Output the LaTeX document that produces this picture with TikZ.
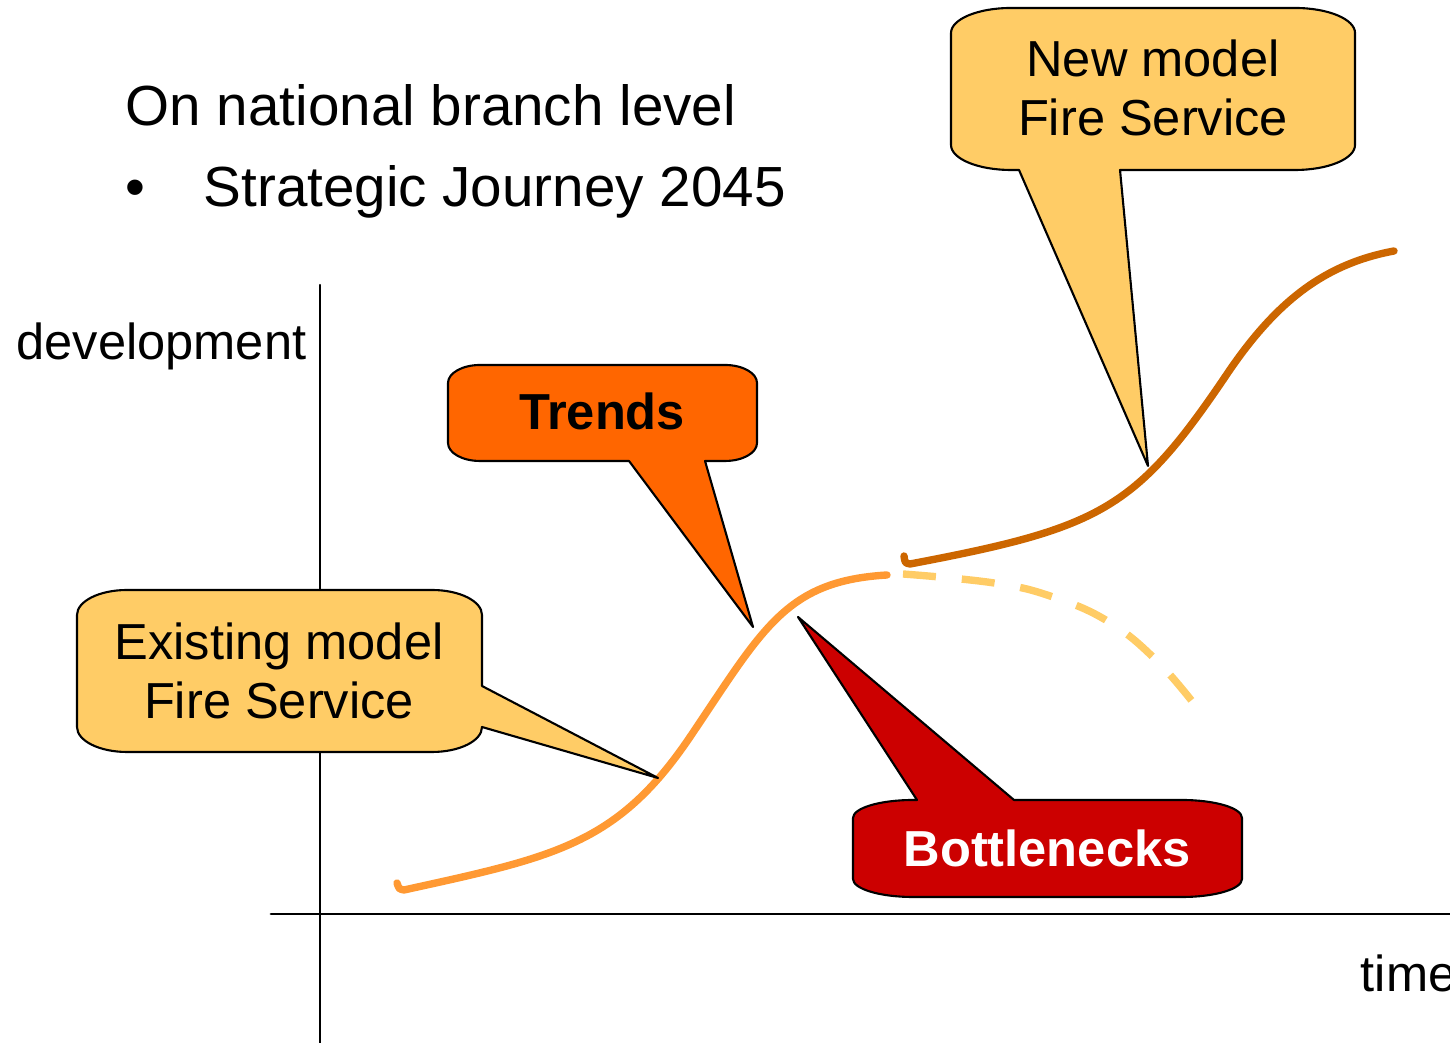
\documentclass[tikz,border=0pt]{standalone}
\usepackage{fontspec}
\setmainfont{Liberation Sans}
\usetikzlibrary{calc}
\definecolor{paleorange}{HTML}{FFCC66}
\definecolor{trendorange}{HTML}{FF6600}
\definecolor{bottlered}{HTML}{CC0000}
\definecolor{oldcurve}{HTML}{FF9933}
\definecolor{newcurve}{HTML}{CC6600}
\tikzstyle{every node}=[font=\fontsize{14.4}{17}\selectfont,inner sep=0pt]
\tikzstyle{every path}=[line cap=round,line join=round]
\tikzstyle{balloon}=[draw=black,line width=0.6pt]
\tikzstyle{bubbletext}=[align=center]
\tikzstyle{headtext}=[anchor=base west,font=\fontsize{16.1}{19}\selectfont]
\tikzstyle{curve}=[line width=2.1pt]

\begin{document}
\begin{tikzpicture}
    \useasboundingbox (0,0) rectangle (14.5,10.43);

    % Define named coordinates
    \coordinate (ytop) at (3.20,7.58);
    \coordinate (ybot) at (3.20,0);
    \coordinate (xleft) at (2.71,1.29);
    \coordinate (xright) at (14.5,1.29);
    \coordinate (existingtip) at (6.58,2.65);
    \coordinate (trendtip) at (7.53,4.16);
    \coordinate (bottletip) at (7.98,4.26);
    \coordinate (newtip) at (11.48,5.77);

    % Axes
    \draw[line width=0.6pt] (ytop) -- (ybot);
    \draw[line width=0.8pt] (xleft) -- (xright);
    \node[anchor=base east] (devlabel) at (3.07,6.83) {development};
    \node[anchor=base west] (timelabel) at (13.60,0.51) {time};

    % Heading
    \node[headtext] (heading) at (1.25,9.17) {On national branch level};
    \node[headtext] (bullet) at (1.25,8.36) {•};
    \node[headtext] (journey) at (2.03,8.36) {Strategic Journey 2045};

    % Existing model curve and its dashed continuation
    \draw[curve,oldcurve] (3.97,1.60) .. controls (3.99,1.54) .. (4.04,1.53)
    .. controls (5.54,1.86) and (6.17,1.98) .. (6.90,3.06)
    .. controls (7.63,4.14) and (7.85,4.62) .. (8.87,4.68);
    \draw[curve,paleorange,line cap=butt,dash pattern=on 0.33cm off 0.26cm]
    plot[smooth,tension=0.7] coordinates
    {(9.03,4.69) (9.94,4.60) (10.53,4.46) (11.09,4.21) (11.56,3.83) (11.95,3.38)};

    % New model curve
    \draw[curve,newcurve] (9.04,4.87) .. controls (9.05,4.80) .. (9.10,4.79)
    .. controls (11.0,5.15) and (11.35,5.33) .. (12.25,6.66)
    .. controls (12.75,7.41) and (13.24,7.79) .. (13.94,7.92);

    % Callout: existing model
    \draw[balloon,fill=paleorange] (4.82,3.57) -- (existingtip) -- (4.82,3.16)
    arc[start angle=0,end angle=-90,x radius=0.5,y radius=0.25] -- (1.27,2.91)
    arc[start angle=270,end angle=180,x radius=0.5,y radius=0.25] -- (0.77,4.28)
    arc[start angle=180,end angle=90,x radius=0.5,y radius=0.25] -- (4.32,4.53)
    arc[start angle=90,end angle=0,x radius=0.5,y radius=0.25] -- cycle;
    \node[bubbletext] (existing) at (2.79,3.72) {Existing model\\Fire Service};

    % Callout: trends
    \draw[balloon,fill=trendorange] (6.29,5.82) -- (trendtip) -- (7.05,5.82) -- (7.25,5.82)
    arc[start angle=270,end angle=360,x radius=0.32,y radius=0.18] -- (7.57,6.60)
    arc[start angle=0,end angle=90,x radius=0.32,y radius=0.18] -- (4.80,6.78)
    arc[start angle=90,end angle=180,x radius=0.32,y radius=0.18] -- (4.48,6.00)
    arc[start angle=180,end angle=270,x radius=0.32,y radius=0.18] -- cycle;
    \node[bubbletext,font=\fontsize{14.4}{17}\selectfont\bfseries] (trends) at (6.02,6.32) {Trends};

    % Callout: bottlenecks
    \draw[balloon,fill=bottlered] (10.14,2.43) -- (bottletip) -- (9.17,2.43) -- (9.13,2.43)
    arc[start angle=90,end angle=180,x radius=0.6,y radius=0.18] -- (8.53,1.64)
    arc[start angle=180,end angle=270,x radius=0.6,y radius=0.18] -- (11.82,1.46)
    arc[start angle=270,end angle=360,x radius=0.6,y radius=0.18] -- (12.42,2.25)
    arc[start angle=0,end angle=90,x radius=0.6,y radius=0.18] -- cycle;
    \node[bubbletext,text=white,font=\fontsize{14.4}{17}\selectfont\bfseries] (bottlenecks) at (10.47,1.95) {Bottlenecks};

    % Callout: new model
    \draw[balloon,fill=paleorange] (10.19,8.73) -- (newtip) -- (11.20,8.73) -- (12.95,8.73)
    arc[start angle=270,end angle=360,x radius=0.6,y radius=0.25] -- (13.55,10.10)
    arc[start angle=0,end angle=90,x radius=0.6,y radius=0.25] -- (10.11,10.35)
    arc[start angle=90,end angle=180,x radius=0.6,y radius=0.25] -- (9.51,8.98)
    arc[start angle=180,end angle=270,x radius=0.6,y radius=0.25] -- cycle;
    \node[bubbletext] (newmodel) at (11.53,9.55) {New model\\Fire Service};
\end{tikzpicture}
\end{document}
